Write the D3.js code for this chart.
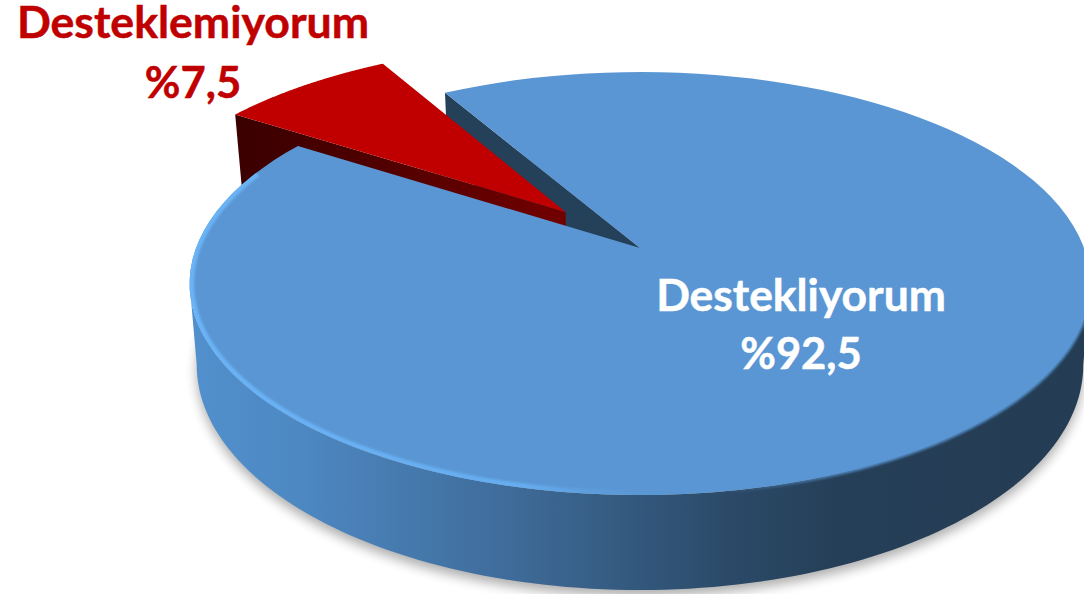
<!DOCTYPE html>
<html><head><meta charset="utf-8">
<script src="https://cdn.jsdelivr.net/npm/d3@7/dist/d3.min.js"></script>
<style>html,body{margin:0;padding:0;background:#fff;overflow:hidden}svg{display:block}text{font-family:Lato,"Open Sans",sans-serif;font-weight:700;text-anchor:middle}</style>
</head><body><div id="c"></div>
<script>
const categories = ["Destekliyorum", "Desteklemiyorum"];
const values = [92.5, 7.5];
const sliceColors = ["#5a96d3", "#c00000"];
const labelColors = ["#ffffff", "#c00000"];

const W = 1084, H = 594;
const svg = d3.select("#c").append("svg").attr("width", W).attr("height", H);
const defs = svg.append("defs");

// perspective projection of the unit disc
const k = -0.168, A = 163.9, cx = 640;
const topFace = {c: 444, b: 248}, botFace = {c: 437, b: 327};
const project = (f, x, y) => {
  const w = 1 + k * y;
  return [cx + f.c * x / w, (A * y + f.b) / w];
};
const rim = (f, a, o = [0, 0], r = 1) => project(f, r * Math.sin(a) + o[0], -r * Math.cos(a) + o[1]);
const line = d3.line();
const arcPts = (f, a0, a1, o, r) => d3.range(0, 121).map(i => rim(f, a0 + (a1 - a0) * i / 120, o, r));

const deg = Math.PI / 180;
const start = -30.2 * deg;
const arcs = d3.pie().sort(null).value(d => d).startAngle(start).endAngle(start + 2 * Math.PI)(values);
const blue = arcs[0], red = arcs[1];

const mid = (red.startAngle + red.endAngle) / 2;
const off = [Math.sin(mid) * 0.25, -Math.cos(mid) * 0.25];
const redR = 1.012;

// gradients & filters
const grad = (id, stops, x1, x2) => {
  const g = defs.append("linearGradient").attr("id", id).attr("gradientUnits", "userSpaceOnUse")
    .attr("x1", x1).attr("x2", x2).attr("y1", 0).attr("y2", 0);
  stops.forEach(s => g.append("stop").attr("offset", s[0]).attr("stop-color", s[1]).attr("stop-opacity", s[2] === undefined ? 1 : s[2]));
};
grad("wall", [[0, "#5190cd"], [0.12, "#4d88c2"], [0.35, "#3f6c9a"], [0.6, "#2b4a68"], [0.72, "#263f58"], [1, "#243d54"]], 195, 1084);
grad("rw", [[0, "#3a0000"], [0.3, "#480000"], [1, "#720000"]], 233, 565);
grad("hl", [[0, "#6ab3f6"], [0.55, "#66adf0"], [0.8, "#5a96d3", 0]], 190, 800);
grad("soft", [[0, "#5a96d3", 0], [0.6, "#5a96d3", 0], [0.75, "#4f86bd"], [1, "#4f86bd"]], 190, 1084);
const blur = (id, s) => defs.append("filter").attr("id", id).attr("x", "-10%").attr("y", "-10%").attr("width", "120%").attr("height", "120%")
  .append("feGaussianBlur").attr("stdDeviation", s);
blur("b6", 6); blur("b1", 1.2);

const frontA = Math.asin(-k);
const aR = Math.PI / 2 + frontA, aL = 3 * Math.PI / 2 - frontA;

// ground shadow
svg.append("path")
  .attr("d", line(arcPts(botFace, 0, 2 * Math.PI)) + "Z")
  .attr("transform", "translate(0,6)")
  .attr("fill", "#000").attr("opacity", 0.32).attr("filter", "url(#b6)");

// outer wall of the large slice
const wall = arcPts(topFace, aR, aL).concat(arcPts(botFace, aL, aR));
svg.append("path").attr("d", line(wall) + "Z").attr("fill", "url(#wall)");

// cut wall of the large slice
svg.append("path").attr("d", line([
  rim(topFace, blue.startAngle), project(topFace, 0, 0),
  project(botFace, 0, 0), rim(botFace, blue.startAngle)
]) + "Z").attr("fill", "#254059");

// small slice walls
const rs = red.startAngle, re = red.endAngle;
svg.append("path").attr("d", line([
  rim(topFace, rs, off, redR), project(topFace, off[0], off[1]),
  project(botFace, off[0], off[1]), rim(botFace, rs, off, redR)
]) + "Z").attr("fill", "url(#rw)");

// small slice top
svg.append("path")
  .attr("d", line([project(topFace, off[0], off[1])].concat(arcPts(topFace, rs, re, off, redR))) + "Z")
  .attr("fill", sliceColors[1]);

// large slice top
const blueTop = [project(topFace, 0, 0)].concat(arcPts(topFace, blue.startAngle, blue.endAngle));

// soft lower-right edge of the top face
svg.append("path")
  .attr("d", line(arcPts(topFace, aR, 180 * deg)))
  .attr("fill", "none").attr("stroke", "url(#soft)").attr("stroke-width", 4).attr("filter", "url(#b1)");

svg.append("path").attr("d", line(blueTop) + "Z").attr("fill", sliceColors[0]);

// bevel highlight along the rim
const clip = defs.append("clipPath").attr("id", "tc");
clip.append("path").attr("d", line(blueTop) + "Z");
svg.append("g").attr("clip-path", "url(#tc)").append("path")
  .attr("d", line(arcPts(topFace, 115 * deg, 293 * deg)))
  .attr("fill", "none").attr("stroke", "url(#hl)").attr("stroke-width", 9).attr("filter", "url(#b1)");

// labels
const pct = v => "%" + String(v).replace(".", ",");
const labelX = [801, 193], nameY = [311, 38], valueY = [369, 98];
const fs = [44.4, 44.6];
categories.forEach((c, i) => {
  svg.append("text").attr("x", labelX[i]).attr("y", nameY[i]).attr("font-size", fs[i]).attr("fill", labelColors[i])
    .attr("stroke", labelColors[i]).attr("stroke-width", 0.5).text(c);
  svg.append("text").attr("x", labelX[i]).attr("y", valueY[i]).attr("font-size", 43.5).attr("fill", labelColors[i])
    .attr("stroke", labelColors[i]).attr("stroke-width", 0.5).text(pct(values[i]));
});
</script></body></html>
